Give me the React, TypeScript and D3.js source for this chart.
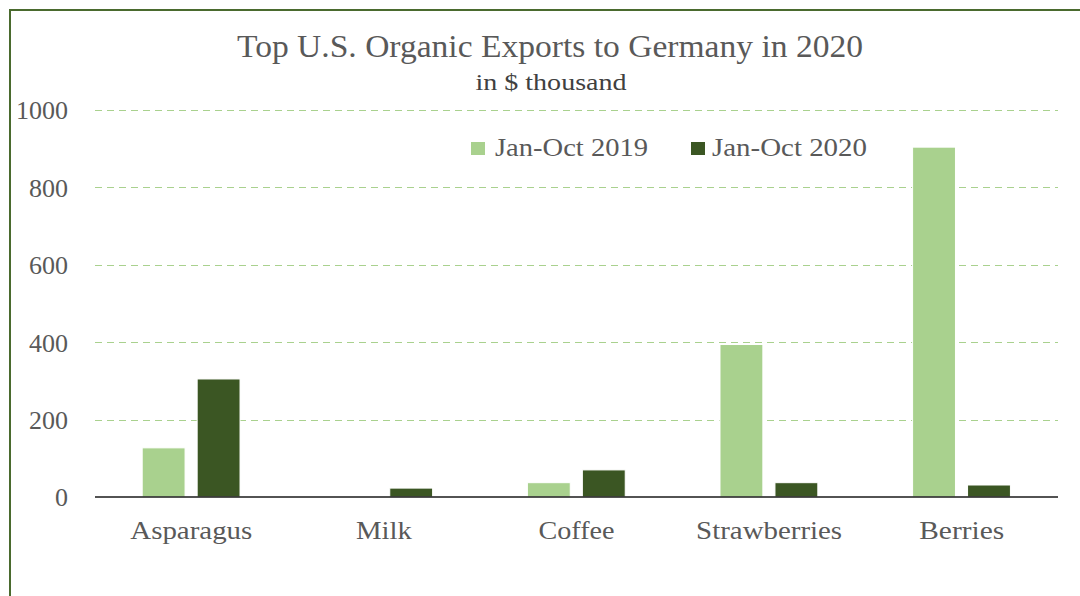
import React from "react";
import * as d3 from "d3";

const categories = ["Asparagus", "Milk", "Coffee", "Strawberries", "Berries"];
const categoryLabelWidths = [122, 56, 76, 146, 85];
const seriesNames = ["Jan-Oct 2019", "Jan-Oct 2020"];
const values2019 = [127, 0, 37, 394, 904];
const values2020 = [305, 23, 70, 37, 31];
const yTicks = [0, 200, 400, 600, 800, 1000];

const W = 1080;
const H = 596;
const colors = ["#A9D18E", "#3B5623"];
const font = "Liberation Serif, DejaVu Serif, Noto Serif, Times New Roman, serif";
const textColor = "#595959";

export default function App() {
  const x = d3.scaleBand<string>().domain(categories).range([95, 1058]).paddingInner(0).paddingOuter(0);
  const y = d3.scaleLinear().domain([0, 1000]).range([497, 110]);
  const bw = x.bandwidth();
  const inner = d3
    .scaleBand<string>()
    .domain(seriesNames)
    .range([bw * 0.245, bw * 0.753])
    .paddingInner(0.22);
  const series = [values2019, values2020];
  const crisp = (v: number) => Math.round(v) + 0.5;

  return (
    <svg width={W} height={H} style={{ position: "absolute", left: 0, top: 0, background: "#fff" }}>
      <rect x={10} y={10} width={W + 10} height={H + 10} fill="#fff" stroke="#4A6A2E" strokeWidth={2} />
      <text
        x={550}
        y={57}
        textAnchor="middle"
        style={{ fontFamily: font }}
        fontSize={31}
        fill={textColor}
        textLength={626}
        lengthAdjust="spacingAndGlyphs"
      >
        Top U.S. Organic Exports to Germany in 2020
      </text>
      <text
        x={551}
        y={90}
        textAnchor="middle"
        style={{ fontFamily: font }}
        fontSize={24}
        fill="#404040"
        textLength={151}
        lengthAdjust="spacingAndGlyphs"
      >
        in $ thousand
      </text>
      {yTicks.map((t) =>
        t === 0 ? null : (
          <line
            key={"g" + t}
            x1={95}
            x2={1058}
            y1={crisp(y(t))}
            y2={crisp(y(t))}
            stroke="#A9D18E"
            strokeWidth={1}
            strokeDasharray="7,5"
          />
        )
      )}
      {yTicks.map((t) => (
        <text
          key={"t" + t}
          x={68}
          y={y(t)}
          dy="0.36em"
          textAnchor="end"
          style={{ fontFamily: font }}
          fontSize={26}
          fill={textColor}
        >
          {t}
        </text>
      ))}
      {categories.map((c, i) =>
        series.map((s, j) => (
          <rect
            key={c + j}
            x={(x(c) as number) + (inner(seriesNames[j]) as number)}
            y={y(s[i])}
            width={inner.bandwidth()}
            height={y(0) - y(s[i])}
            fill={colors[j]}
            stroke="#fff"
            strokeWidth={1}
          />
        ))
      )}
      <line x1={95} x2={1058} y1={y(0)} y2={y(0)} stroke="#1a1a1a" strokeWidth={1.6} />
      {categories.map((c, i) => (
        <text
          key={"x" + c}
          x={(x(c) as number) + bw / 2}
          y={539}
          textAnchor="middle"
          style={{ fontFamily: font }}
          fontSize={25}
          fill={textColor}
          textLength={categoryLabelWidths[i]}
          lengthAdjust="spacingAndGlyphs"
        >
          {c}
        </text>
      ))}
      {seriesNames.map((n, j) => {
        const lx = j === 0 ? 471 : 691;
        const tx = j === 0 ? 495 : 712;
        return (
          <g key={n}>
            <rect x={lx} y={142} width={14} height={13} fill={colors[j]} />
            <text
              x={tx}
              y={156}
              style={{ fontFamily: font }}
              fontSize={26}
              fill={textColor}
              textLength={j === 0 ? 153 : 155}
              lengthAdjust="spacingAndGlyphs"
            >
              {n}
            </text>
          </g>
        );
      })}
    </svg>
  );
}
